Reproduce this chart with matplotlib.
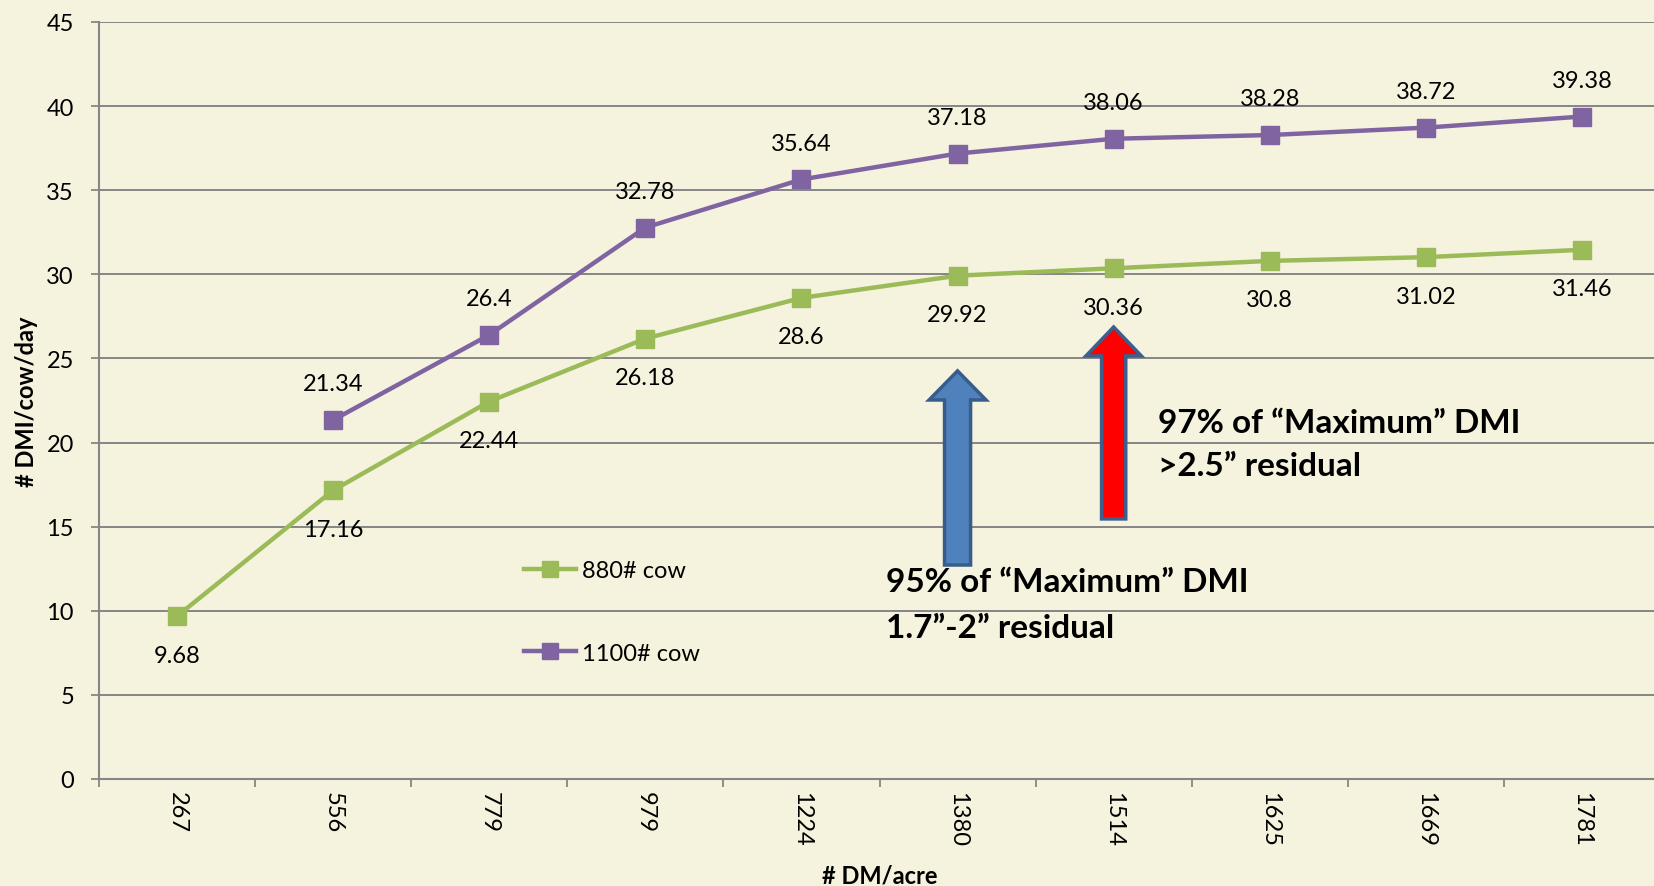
import numpy as np
import matplotlib.pyplot as plt
import matplotlib.patches as mpatches

# data
categories = ['267', '556', '779', '979', '1224', '1380', '1514', '1625', '1669', '1781']
cow_880 = [9.68, 17.16, 22.44, 26.18, 28.6, 29.92, 30.36, 30.8, 31.02, 31.46]
cow_1100 = [np.nan, 21.34, 26.4, 32.78, 35.64, 37.18, 38.06, 38.28, 38.72, 39.38]

green = '#9BBB59'
purple = '#8064A2'
bg = '#F5F2DE'
grid = '#868686'

plt.rcParams['font.family'] = ['Lato', 'DejaVu Sans']

W, H = 1654, 887
fig = plt.figure(figsize=(W / 100, H / 100), dpi=100, facecolor=bg)
ax = fig.add_axes([99 / W, 1 - 780 / H, (1660 - 99) / W, (780 - 23) / H])
ax.set_facecolor(bg)

x = np.arange(len(categories))
ax.plot(x, cow_880, color=green, lw=3.2, marker='s', ms=13, label='880# cow', zorder=3)
ax.plot(x, cow_1100, color=purple, lw=3.2, marker='s', ms=13, label='1100# cow', zorder=3)

# data labels
for xi, v in zip(x, cow_880):
    ax.annotate(f'{v:g}', (xi, v), xytext=(0, -28), textcoords='offset points',
                ha='center', va='center', fontsize=17, color='black')
for xi, v in zip(x, cow_1100):
    if np.isnan(v):
        continue
    ax.annotate(f'{v:g}', (xi, v), xytext=(0, 26), textcoords='offset points',
                ha='center', va='center', fontsize=17, color='black')

# axes styling
ax.set_xlim(-0.5, 9.5)
ax.set_ylim(0, 45)
ax.set_yticks(np.arange(0, 46, 5))
ax.yaxis.grid(True, color=grid, lw=1.4)
ax.set_axisbelow(True)
for s in ['top', 'right']:
    ax.spines[s].set_visible(False)
for s in ['left', 'bottom']:
    ax.spines[s].set_color(grid)
    ax.spines[s].set_linewidth(1.5)

ax.set_xticks(np.arange(-0.5, 10, 1))
ax.set_xticklabels([])
ax.set_xticks(x, minor=True)
ax.set_xticklabels(categories, minor=True, rotation=270, fontsize=17)
ax.tick_params(axis='x', which='major', length=6, width=1.3, color=grid)
ax.tick_params(axis='x', which='minor', length=0, pad=9)
ax.tick_params(axis='y', length=6, width=1.3, color=grid, pad=12, labelsize=17)

ax.set_xlabel('# DM/acre', fontsize=17, fontweight='bold', labelpad=12)
ax.set_ylabel('# DMI/cow/day', fontsize=17, fontweight='bold', labelpad=6)

# legend
ax.legend(loc='center left', bbox_to_anchor=(524 / W, 1 - 613 / H), bbox_transform=fig.transFigure,
          frameon=False, fontsize=17, borderpad=0, borderaxespad=0,
          labelspacing=2.6, handlelength=2.2, handletextpad=0.25, markerscale=0.85)

# arrows
blue_arrow = mpatches.FancyArrow(5, 12.72, 0, 11.54, width=0.167, head_width=0.365, head_length=1.73,
                                 length_includes_head=True, facecolor='#4F81BD', edgecolor='#385D8A',
                                 lw=2.5, zorder=4)
red_arrow = mpatches.FancyArrow(6, 15.46, 0, 11.41, width=0.155, head_width=0.355, head_length=1.72,
                                length_includes_head=True, facecolor='#FF0000', edgecolor='#3C5F8D',
                                lw=2.5, zorder=4)
ax.add_patch(blue_arrow)
ax.add_patch(red_arrow)

# annotation text
fig.text(1158 / W, 1 - 424 / H, '97% of \u201cMaximum\u201d DMI', fontsize=24, fontweight='bold',
         ha='left', va='center')
fig.text(1158 / W, 1 - 467 / H, '>2.5\u201d residual', fontsize=24, fontweight='bold',
         ha='left', va='center')
fig.text(886 / W, 1 - 583 / H, '95% of \u201cMaximum\u201d DMI', fontsize=24, fontweight='bold',
         ha='left', va='center')
fig.text(886 / W, 1 - 629 / H, '1.7\u201d-2\u201d residual', fontsize=24, fontweight='bold',
         ha='left', va='center')

fig.savefig('out.png', dpi=100, facecolor=bg)
